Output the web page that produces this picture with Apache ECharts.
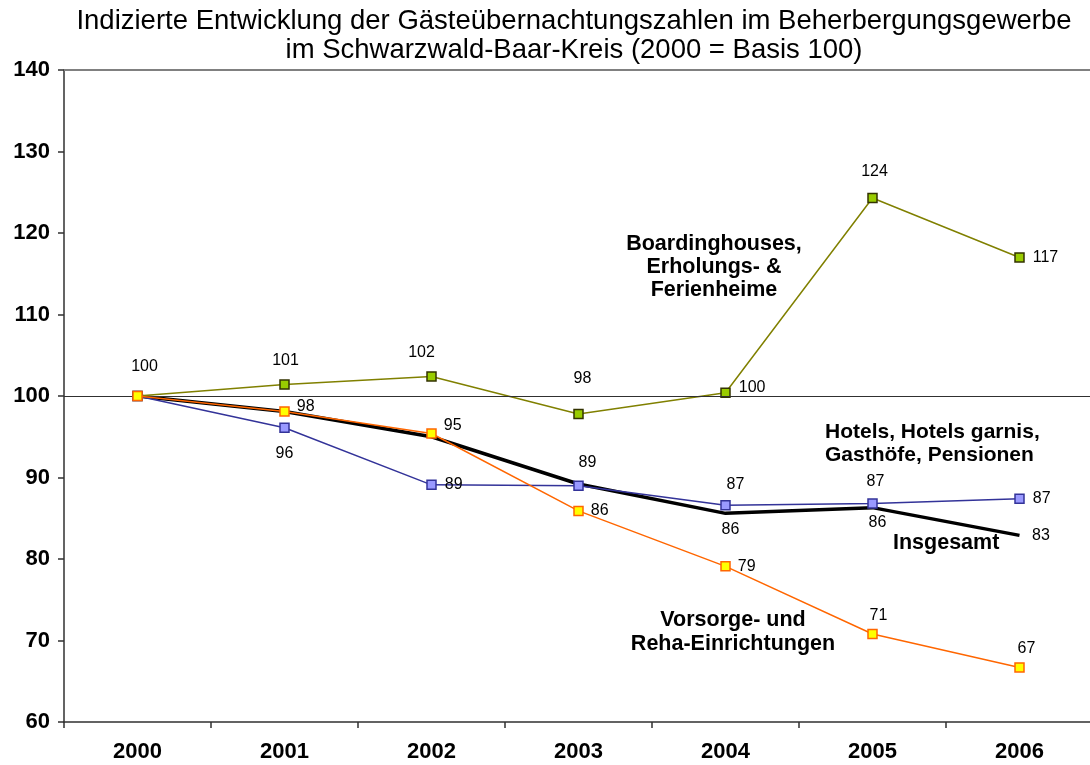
<!DOCTYPE html>
<html>
<head>
<meta charset="utf-8">
<script src="https://cdn.jsdelivr.net/npm/echarts@6/dist/echarts.min.js"></script>
<style>
html,body{margin:0;padding:0;background:#fff;}
#chart{width:1090px;height:765px;}
</style>
</head>
<body>
<div id="chart"></div>
<script>
// ---- data ----
const years = ['2000', '2001', '2002', '2003', '2004', '2005', '2006'];
const boarding = [100, 101.4, 102.4, 97.8, 100.4, 124.3, 117.0];
const hotels = [100, 96.1, 89.1, 89.0, 86.6, 86.8, 87.4];
const total = [100, 98.1, 95.0, 89.2, 85.6, 86.3, 82.9];
const vorsorge = [100, 98.1, 95.4, 85.9, 79.1, 70.8, 66.7];
const yTicks = [60, 70, 80, 90, 100, 110, 120, 130, 140];
const titleText = 'Indizierte Entwicklung der Gästeübernachtungszahlen im Beherbergungsgewerbe\nim Schwarzwald-Baar-Kreis (2000 = Basis 100)';

// ---- label placement (style) ----
const boardingPos = ['top', 'top', 'top', 'top', 'right', 'top', 'right'];
const boardingDist = [16, 11, 11, 22, 8, 13, 8];
const boardingOff = [[7,0],[1,0],[-10,0],[4,0],[0,-5],[2,0],[0,0]];
const hotelsPos = [null, 'bottom', 'right', 'top', 'top', 'top', 'right'];
const hotelsDist = [0, 13, 8, 10, 7, 9, 8];
const hotelsOff = [[0,0],[0,0],[0,0],[9,0],[10,0],[3,0],[0,0]];
const totalPos = [null, null, null, null, 'bottom', 'bottom', 'right'];
const totalDist = [0, 0, 0, 0, 8, 6, 12];
const totalOff = [[0,0],[0,0],[0,0],[0,0],[5,0],[5,0],[0,0]];
const vorsorgePos = [null, 'right', 'right', 'right', 'right', 'top', 'top'];
const vorsorgeDist = [0, 7, 7, 7, 7, 5, 6];
const vorsorgeOff = [[0,0],[0,-5],[0,-8],[0,0],[0,0],[6,0],[7,0]];

const FONT = '"Liberation Sans", Arial, Helvetica, sans-serif';

function build(vals, pos, dist, off) {
  return vals.map((v, i) => pos[i] ? {
    value: v,
    label: { show: true, position: pos[i], distance: dist[i], offset: off[i] }
  } : { value: v, label: { show: false } });
}

const baseLabel = {
  show: false,
  fontFamily: FONT,
  fontSize: 16,
  color: '#000',
  formatter: p => String(Math.round(p.value))
};

const chart = echarts.init(document.getElementById('chart'), null, { renderer: 'canvas' });
chart.setOption({
  animation: false,
  backgroundColor: '#fff',
  grid: { left: 64, top: 70, width: 1029, height: 652, outerBoundsMode: 'none' },
  xAxis: {
    type: 'category',
    data: years,
    boundaryGap: true,
    axisLine: { show: true, lineStyle: { color: '#303030', width: 1.5 } },
    axisTick: { show: true, length: 6, lineStyle: { color: '#303030', width: 1.5 } },
    axisLabel: { fontFamily: FONT, fontSize: 22, fontWeight: 'bold', color: '#000', margin: 19 },
    splitLine: { show: false }
  },
  yAxis: {
    type: 'value',
    min: yTicks[0],
    max: yTicks[yTicks.length - 1],
    interval: 10,
    axisLine: { show: true, lineStyle: { color: '#303030', width: 1.5 } },
    axisTick: { show: true, length: 6, lineStyle: { color: '#303030', width: 1.5 } },
    axisLabel: { fontFamily: FONT, fontSize: 22, fontWeight: 'bold', color: '#000', margin: 14 },
    splitLine: { show: false }
  },
  graphic: [
    { type: 'text', x: 574, y: 7, style: { text: titleText, font: '27.5px ' + FONT, fill: '#000', textAlign: 'center', lineHeight: 29 } },
    { type: 'text', x: 714, y: 233, style: { text: 'Boardinghouses,\nErholungs- &\nFerienheime', font: 'bold 21.5px ' + FONT, fill: '#000', textAlign: 'center', lineHeight: 23 } },
    { type: 'text', x: 825, y: 421, style: { text: 'Hotels, Hotels garnis,\nGasthöfe, Pensionen', font: 'bold 21px ' + FONT, fill: '#000', textAlign: 'left', lineHeight: 23 } },
    { type: 'text', x: 893, y: 532, style: { text: 'Insgesamt', font: 'bold 21.5px ' + FONT, fill: '#000', textAlign: 'left', lineHeight: 23 } },
    { type: 'text', x: 733, y: 608, style: { text: 'Vorsorge- und\nReha-Einrichtungen', font: 'bold 21.5px ' + FONT, fill: '#000', textAlign: 'center', lineHeight: 24 } }
  ],
  series: [
    {
      name: 'Insgesamt',
      type: 'line',
      data: build(total, totalPos, totalDist, totalOff),
      symbol: 'circle',
      symbolSize: 1,
      showSymbol: true,
      itemStyle: { color: 'rgba(0,0,0,0)' },
      lineStyle: { color: '#000', width: 3.5 },
      label: baseLabel,
      z: 2,
      markLine: {
        silent: true,
        symbol: ['none', 'none'],
        label: { show: false },
        data: [
          { yAxis: 100, lineStyle: { color: '#303030', width: 1.2, type: 'solid' } },
          { yAxis: 140, lineStyle: { color: '#808080', width: 2, type: 'solid' } }
        ]
      }
    },
    {
      name: 'Boardinghouses',
      type: 'line',
      data: build(boarding, boardingPos, boardingDist, boardingOff),
      symbol: 'rect',
      symbolSize: 9,
      itemStyle: { color: '#99cc00', borderColor: '#333300', borderWidth: 1.5 },
      lineStyle: { color: '#808000', width: 1.5 },
      label: baseLabel,
      z: 3
    },
    {
      name: 'Hotels',
      type: 'line',
      data: build(hotels, hotelsPos, hotelsDist, hotelsOff),
      symbol: 'rect',
      symbolSize: 9,
      itemStyle: { color: '#9999ff', borderColor: '#333399', borderWidth: 1.5 },
      lineStyle: { color: '#333399', width: 1.5 },
      label: baseLabel,
      z: 4
    },
    {
      name: 'Vorsorge',
      type: 'line',
      data: build(vorsorge, vorsorgePos, vorsorgeDist, vorsorgeOff),
      symbol: 'rect',
      symbolSize: 9,
      itemStyle: { color: '#ffff00', borderColor: '#ff6600', borderWidth: 1.5 },
      lineStyle: { color: '#ff6600', width: 1.5 },
      label: baseLabel,
      z: 5
    }
  ]
});
</script>
</body>
</html>
